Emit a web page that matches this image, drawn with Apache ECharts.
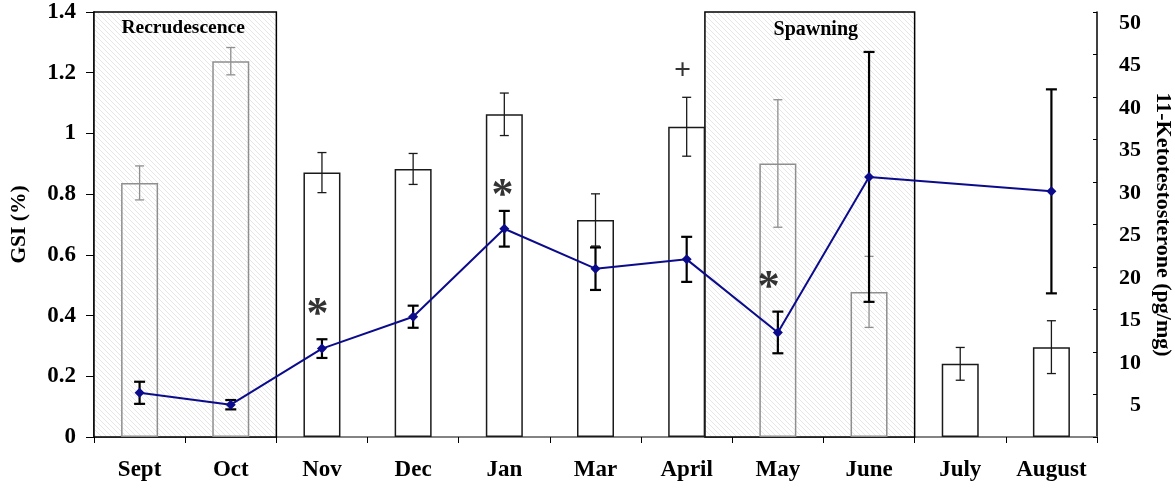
<!DOCTYPE html>
<html>
<head>
<meta charset="utf-8">
<script src="https://cdn.jsdelivr.net/npm/echarts@6/dist/echarts.min.js"></script>
<style>
  html, body { margin: 0; padding: 0; background: #fff; }
  #chart { width: 1175px; height: 488px; }
</style>
</head>
<body>
<div id="chart"></div>
<script>
// Monthly gonadosomatic index (bars, left axis) and 11-ketotestosterone (line, right axis)
const months = ['Sept', 'Oct', 'Nov', 'Dec', 'Jan', 'Mar', 'April', 'May', 'June', 'July', 'August'];
const gsi    = [0.837, 1.238, 0.871, 0.883, 1.063, 0.715, 1.022, 0.901, 0.478, 0.241, 0.296];
const gsiErr = [0.056, 0.045, 0.066, 0.051, 0.070, 0.086, 0.097, 0.210, 0.117, 0.054, 0.087];
const kt     = [5.2, 3.8, 10.4, 14.15, 24.5, 19.8, 20.9, 12.3, 30.6, null, 28.9];
const ktErr  = [1.3, 0.55, 1.1, 1.3, 2.1, 2.5, 2.65, 2.45, 14.7, null, 12.0];
// Months falling inside a reproductive-season window (drawn in grey)
const inSeason = [true, true, false, false, false, false, false, true, true, false, false];
// Season windows on a month-index scale (0 = left edge of Sept, 11 = right edge of August)
const seasonNames = ['Recrudescence', 'Spawning'];
const seasonFrom  = [0, 6.7];
const seasonTo    = [2, 9];
// Significance marks: symbol, month-index position, GSI-scale height
const markText = ['*', '*', '*', '+'];
const markX    = [2.45, 4.48, 7.40, 6.455];
const markY    = [0.429, 0.823, 0.517, 1.209];

const SERIF = '"Liberation Serif", "Times New Roman", serif';
const GREY = '#8f8f8f';

function hatchPattern() {
  const s = 5;
  const c = document.createElement('canvas');
  c.width = s; c.height = s;
  const g = c.getContext('2d');
  g.fillStyle = '#ffffff';
  g.fillRect(0, 0, s, s);
  g.strokeStyle = '#e6e6e6';
  g.lineWidth = 1;
  g.beginPath();
  g.moveTo(-1, -1); g.lineTo(s + 1, s + 1);
  g.stroke();
  return c;
}

function errorBars(lineWidth, capHalf, colorOf) {
  return function (params, api) {
    const x = api.value(0);
    const lo = api.coord([x, api.value(1)]);
    const hi = api.coord([x, api.value(2)]);
    const style = { stroke: colorOf(params.dataIndex), lineWidth: lineWidth };
    return {
      type: 'group',
      children: [
        { type: 'line', shape: { x1: hi[0], y1: hi[1], x2: lo[0], y2: lo[1] }, style: style },
        { type: 'line', shape: { x1: hi[0] - capHalf, y1: hi[1], x2: hi[0] + capHalf, y2: hi[1] }, style: style },
        { type: 'line', shape: { x1: lo[0] - capHalf, y1: lo[1], x2: lo[0] + capHalf, y2: lo[1] }, style: style }
      ]
    };
  };
}

const gsiErrData = months.map((m, i) => [i, gsi[i] - gsiErr[i], gsi[i] + gsiErr[i]]);
const ktErrData = [];
months.forEach((m, i) => { if (kt[i] != null) ktErrData.push([i, kt[i] - ktErr[i], kt[i] + ktErr[i]]); });

const chart = echarts.init(document.getElementById('chart'), null, { renderer: 'canvas' });

chart.setOption({
  animation: false,
  backgroundColor: '#fff',
  grid: { left: 94, right: 78, top: 12, bottom: 51, containLabel: false, outerBoundsMode: 'none' },
  textStyle: { fontFamily: SERIF },
  xAxis: [
    {
      type: 'category',
      data: months,
      axisLine: { lineStyle: { color: '#000', width: 1.5 } },
      axisTick: { show: true, interval: 0, length: 6, lineStyle: { color: '#000' } },
      axisLabel: {
        interval: 0, hideOverlap: false,
        color: '#000', fontFamily: SERIF, fontWeight: 'bold', fontSize: 23, margin: 22
      },
      splitLine: { show: false }
    },
    {
      type: 'value', min: 0, max: 11, position: 'top',
      axisLine: { show: true, lineStyle: { color: '#9a9a9a', width: 1.5 } },
      axisTick: { show: false }, axisLabel: { show: false }, splitLine: { show: false }
    }
  ],
  yAxis: [
    {
      type: 'value', min: 0, max: 1.4, interval: 0.2,
      name: 'GSI (%)', nameLocation: 'middle', nameGap: 64, nameRotate: 90,
      nameTextStyle: { color: '#000', fontFamily: SERIF, fontWeight: 'bold', fontSize: 21.5 },
      axisLine: { show: true, lineStyle: { color: '#000', width: 1.5 } },
      axisTick: { show: true, length: 8, lineStyle: { color: '#000' } },
      axisLabel: { color: '#000', fontFamily: SERIF, fontWeight: 'bold', fontSize: 23, margin: 18, padding: [4, 0, 0, 0] },
      splitLine: { show: false }
    },
    {
      type: 'value', min: 0, max: 50, interval: 5, position: 'right',
      name: '11-Ketotestosterone (pg/mg)', nameLocation: 'middle', nameGap: 54, nameRotate: -90,
      nameTextStyle: { color: '#000', fontFamily: SERIF, fontWeight: 'bold', fontSize: 22 },
      axisLine: { show: true, lineStyle: { color: '#000', width: 1.5 } },
      axisTick: { show: true, inside: true, length: 4, lineStyle: { color: '#000' } },
      axisLabel: {
        color: '#000', fontFamily: SERIF, fontWeight: 'bold', fontSize: 22,
        margin: 44, align: 'right', verticalAlign: 'top',
        formatter: v => (v === 0 ? '' : String(v))
      },
      splitLine: { show: false }
    }
  ],
  series: [
    {
      // season windows
      type: 'scatter', xAxisIndex: 1, yAxisIndex: 0, data: [], z: 1, silent: true,
      markArea: {
        silent: true,
        itemStyle: {
          color: { image: hatchPattern(), repeat: 'repeat' },
          borderColor: '#000', borderWidth: 1.5
        },
        label: {
          show: true, position: 'insideTop', distance: 7, color: '#000',
          fontFamily: SERIF, fontWeight: 'bold', fontSize: 19.5
        },
        data: seasonNames.map((n, k) => [
          {
            name: n, xAxis: seasonFrom[k], yAxis: 0,
            label: k === 1 ? { offset: [6, 2], fontSize: 20 } : { offset: [-2, 0] }
          },
          { xAxis: seasonTo[k], yAxis: 1.4 }
        ])
      }
    },
    {
      name: 'GSI', type: 'bar', xAxisIndex: 0, yAxisIndex: 0, barWidth: 37, z: 2,
      data: gsi.map((v, i) => ({
        value: v,
        itemStyle: { color: 'rgba(255,255,255,0)', borderColor: inSeason[i] ? GREY : '#1a1a1a', borderWidth: 1.5 }
      }))
    },
    {
      name: 'GSI error', type: 'custom', xAxisIndex: 0, yAxisIndex: 0, z: 3,
      renderItem: errorBars(1.3, 4.5, i => (inSeason[i] ? GREY : '#1a1a1a')),
      data: gsiErrData
    },
    {
      name: 'KT error', type: 'custom', xAxisIndex: 0, yAxisIndex: 1, z: 4,
      renderItem: errorBars(2.2, 5.5, () => '#000'),
      data: ktErrData
    },
    {
      name: '11-KT', type: 'line', xAxisIndex: 0, yAxisIndex: 1, z: 5,
      data: kt, connectNulls: true,
      symbol: 'diamond', symbolSize: 10,
      lineStyle: { color: '#0b0b8c', width: 2 },
      itemStyle: { color: '#0b0b8c' }
    },
    {
      name: 'marks', type: 'scatter', xAxisIndex: 1, yAxisIndex: 0, z: 6, silent: true,
      symbolSize: 0,
      emphasis: { disabled: true },
      data: markText.map((t, k) => ({
        name: t, value: [markX[k], markY[k]],
        label: t === '*' ? { fontSize: 44, offset: [0, 9] } : { fontSize: 30, offset: [0, 1] }
      })),
      label: {
        show: true, position: 'inside', color: '#000',
        fontFamily: SERIF, fontWeight: 'bold',
        formatter: p => p.name
      }
    }
  ]
});
</script>
</body>
</html>
